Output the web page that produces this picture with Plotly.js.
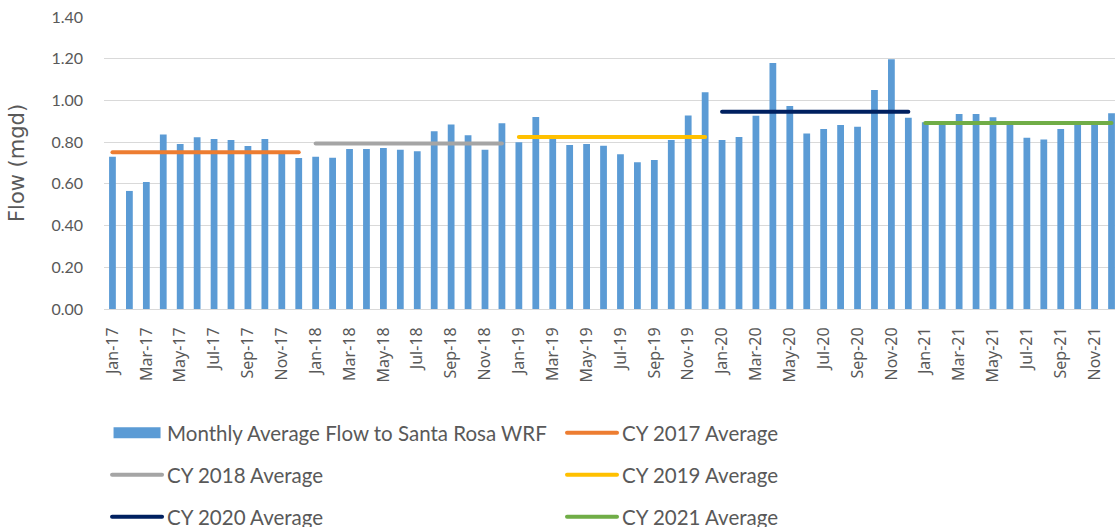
<!DOCTYPE html>
<html><head><meta charset="utf-8">
<script src="https://cdn.plot.ly/plotly-3.0.1.min.js"></script>
<style>
html,body{margin:0;padding:0;overflow:hidden;background:#fff}
#chart{width:1125px;height:527px}
.scatterlayer .js-line, .legendlines path{stroke-linecap:round !important}
</style>
</head><body><div id="chart"></div>
<script>
const months = [
 'Jan-17','Feb-17','Mar-17','Apr-17','May-17','Jun-17','Jul-17','Aug-17','Sep-17','Oct-17','Nov-17','Dec-17',
 'Jan-18','Feb-18','Mar-18','Apr-18','May-18','Jun-18','Jul-18','Aug-18','Sep-18','Oct-18','Nov-18','Dec-18',
 'Jan-19','Feb-19','Mar-19','Apr-19','May-19','Jun-19','Jul-19','Aug-19','Sep-19','Oct-19','Nov-19','Dec-19',
 'Jan-20','Feb-20','Mar-20','Apr-20','May-20','Jun-20','Jul-20','Aug-20','Sep-20','Oct-20','Nov-20','Dec-20',
 'Jan-21','Feb-21','Mar-21','Apr-21','May-21','Jun-21','Jul-21','Aug-21','Sep-21','Oct-21','Nov-21','Dec-21'];
const monthlyFlow = [
 0.730,0.566,0.609,0.837,0.791,0.823,0.815,0.810,0.781,0.815,0.745,0.724,
 0.730,0.725,0.767,0.767,0.772,0.764,0.756,0.852,0.885,0.833,0.764,0.890,
 0.799,0.920,0.820,0.786,0.791,0.783,0.742,0.703,0.714,0.810,0.928,1.039,
 0.810,0.825,0.927,1.179,0.973,0.841,0.863,0.882,0.874,1.050,1.198,0.917,
 0.895,0.893,0.935,0.935,0.919,0.898,0.821,0.813,0.863,0.895,0.897,0.938];
const avgNames = ['CY 2017 Average','CY 2018 Average','CY 2019 Average','CY 2020 Average','CY 2021 Average'];
const yearStart = ['Jan-17','Jan-18','Jan-19','Jan-20','Jan-21'];
const yearEnd = ['Dec-17','Dec-18','Dec-19','Dec-20','Dec-21'];
const yearAvg = [0.751,0.794,0.825,0.946,0.892];
const avgColors = ['#ed7d31','#a5a5a5','#ffc000','#002060','#70ad47'];
const tickLabels = months.filter((m,i)=>i%2===0);

const legendFont = {family:'Lato, "Open Sans", sans-serif', size:20.5, color:'#595959'};
const traces = [{
  type:'bar', x:months, y:monthlyFlow, name:'Monthly Average Flow to Santa Rosa WRF',
  marker:{color:'#5b9bd5'}, legend:'legend'
}];
const legendIds = ['legend2','legend3','legend4','legend5','legend6'];
avgNames.forEach((n,i)=>{
  traces.push({type:'scatter', mode:'lines', x:[yearStart[i],yearEnd[i]], y:[yearAvg[i],yearAvg[i]],
    name:n, line:{color:avgColors[i], width:4}, legend:legendIds[i]});
});
function leg(x,y){return {x:x,y:y,xanchor:'left',yanchor:'middle',orientation:'h',font:legendFont,bgcolor:'rgba(0,0,0,0)',itemwidth:50};}
const colL = 0.003, colR = 0.4508;
const layout = {
  width:1125, height:527,
  margin:{l:104,r:5,t:17,b:218,autoexpand:false},
  paper_bgcolor:'#fff', plot_bgcolor:'#fff',
  bargap:0.6,
  xaxis:{type:'category', tickmode:'array', tickvals:tickLabels, ticktext:tickLabels, tickangle:-90,
    tickfont:{family:'"Noto Sans", "Open Sans", sans-serif', size:16, color:'#595959'},
    showline:true, linecolor:'#d9d9d9', linewidth:1, showgrid:false, ticks:'', ticklabelstandoff:11},
  yaxis:{range:[0,1.4], dtick:0.2, tick0:0, tickformat:'.2f', gridcolor:'#d9d9d9', gridwidth:1,
    zeroline:false, ticks:'', ticklabelstandoff:20,
    tickfont:{family:'Lato, "Open Sans", sans-serif', size:16, color:'#595959'}},
  annotations:[{text:'Flow (mgd)', xref:'paper', yref:'paper', x:-0.0856, y:0.5, xanchor:'center', yanchor:'middle',
    textangle:-90, showarrow:false, font:{family:'"DejaVu Sans", sans-serif', size:21, color:'#595959'}}],
  legend:leg(colL,-0.4247),
  legend2:leg(colR,-0.4247),
  legend3:leg(colL,-0.5685),
  legend4:leg(colR,-0.5685),
  legend5:leg(colL,-0.7123),
  legend6:leg(colR,-0.7123),
  showlegend:true
};
Plotly.newPlot('chart', traces, layout, {displayModeBar:false, staticPlot:true}).then(gd=>{
  gd.querySelectorAll('.legend .legendpoints path').forEach(p=>{
    if(p.closest('.legendbar') || p.classList.contains('legendundefined') || p.parentNode.classList.contains('legendbar')){
      const b = p.getBBox(); const cx = b.x + b.width/2;
      p.setAttribute('d', 'M'+(cx-23.5)+',-5.5h47v11h-47Z');
    }
  });
});
</script></body></html>
